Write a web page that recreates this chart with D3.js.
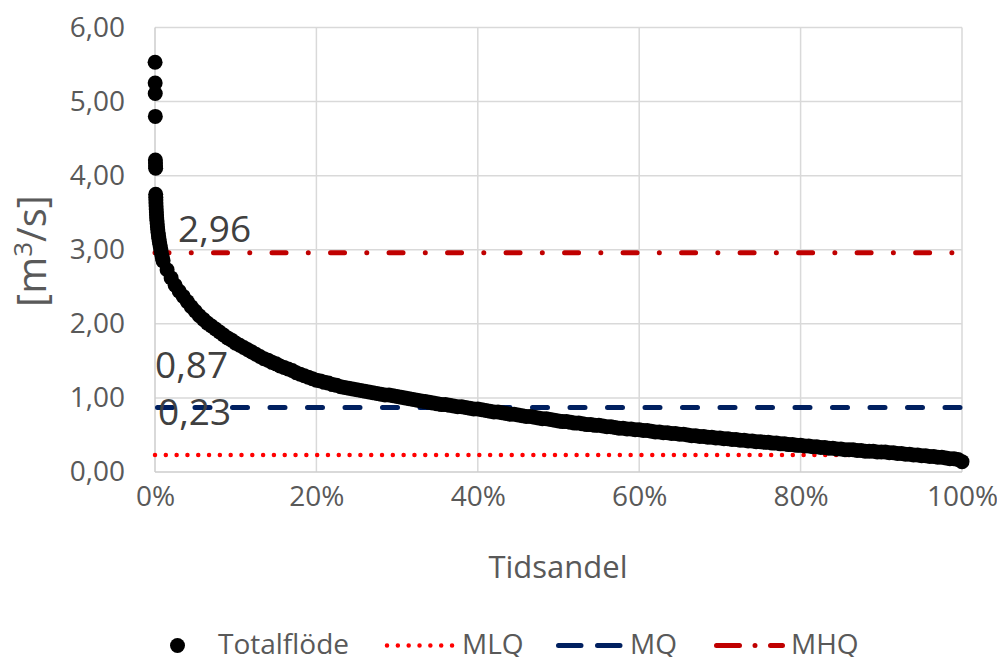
<!DOCTYPE html>
<html><head><meta charset="utf-8">
<script src="https://cdn.jsdelivr.net/npm/d3@7"></script>
<style>html,body{margin:0;padding:0;background:#fff;}svg{display:block;font-family:"Open Sans",sans-serif;}</style>
</head><body>
<svg id="c" width="997" height="657"></svg>
<script>
// ---- data ----
const yTicks = [0,1,2,3,4,5,6];
const xTicks = [0,0.2,0.4,0.6,0.8,1.0];
// steep start of duration curve (percent of time, m3/s)
const headPct  = [0.01,0.02,0.03,0.04,0.05,0.06,0.07,0.08,0.09,0.10,0.11,0.12,0.13,0.15,0.17,0.19,0.21,0.24,0.27,0.30,0.34,0.38,0.43,0.48,0.54,0.60,0.67,0.74,0.82,0.91];
const headFlow = [5.53,5.25,5.11,4.80,4.21,4.17,4.13,4.10,3.75,3.71,3.67,3.63,3.59,3.55,3.51,3.47,3.43,3.39,3.35,3.31,3.27,3.23,3.19,3.15,3.11,3.07,3.03,2.99,2.94,2.89];
// remainder, at 1.0 %, 1.5 %, ... 100 %
const tailFlow = [
 2.85,2.73,2.62,2.52,2.44,2.37,2.30,2.23,2.17,2.11,
 2.06,2.01,1.97,1.93,1.89,1.85,1.81,1.78,1.74,1.71,
 1.68,1.65,1.62,1.59,1.56,1.53,1.51,1.48,1.46,1.43,
 1.41,1.39,1.37,1.34,1.32,1.30,1.28,1.26,1.24,1.23,
 1.21,1.20,1.18,1.17,1.15,1.14,1.13,1.12,1.11,1.10,
 1.09,1.08,1.07,1.06,1.05,1.04,1.04,1.03,1.02,1.01,
 1.00,0.99,0.98,0.97,0.96,0.95,0.94,0.93,0.92,0.91,
 0.91,0.90,0.89,0.88,0.88,0.87,0.86,0.85,0.85,0.84,
 0.83,0.82,0.81,0.81,0.80,0.79,0.78,0.78,0.77,0.76,
 0.75,0.75,0.74,0.73,0.72,0.72,0.71,0.70,0.69,0.68,
 0.68,0.67,0.66,0.66,0.65,0.64,0.64,0.63,0.63,0.62,
 0.61,0.61,0.60,0.59,0.59,0.58,0.58,0.57,0.57,0.56,
 0.56,0.55,0.54,0.54,0.53,0.53,0.52,0.52,0.51,0.51,
 0.50,0.49,0.49,0.48,0.48,0.47,0.47,0.46,0.46,0.45,
 0.45,0.44,0.44,0.43,0.43,0.42,0.42,0.41,0.41,0.40,
 0.40,0.39,0.39,0.38,0.38,0.37,0.37,0.36,0.36,0.35,
 0.35,0.34,0.34,0.33,0.33,0.32,0.32,0.31,0.31,0.30,
 0.30,0.30,0.29,0.29,0.28,0.28,0.28,0.27,0.27,0.27,
 0.26,0.26,0.25,0.25,0.24,0.24,0.23,0.23,0.22,0.22,
 0.21,0.21,0.20,0.20,0.19,0.18,0.18,0.17,0.14];
const tailPct = tailFlow.map((d,i)=>1 + i*0.5);
const refNames  = ["MLQ","MQ","MHQ"];
const refValues = [0.23,0.87,2.96];
const refLabels = ["0,23","0,87","2,96"];
const legendNames = ["Totalflöde","MLQ","MQ","MHQ"];

// ---- chart ----
const svg = d3.select("#c");
const x = d3.scaleLinear().domain([0,1]).range([155,962]);
const y = d3.scaleLinear().domain([0,6]).range([472,27.5]);
const fmt = d => d.toFixed(2).replace(".",",");
const axisCol = "#595959";

// gridlines
svg.append("g").selectAll("line").data(yTicks.filter(d=>d>0)).join("line")
  .attr("x1",x(0)).attr("x2",x(1)).attr("y1",d=>y(d)).attr("y2",d=>y(d))
  .attr("stroke","#d9d9d9").attr("stroke-width",1.5);
svg.append("g").selectAll("line").data(xTicks.filter(d=>d>0)).join("line")
  .attr("x1",d=>x(d)).attr("x2",d=>x(d)).attr("y1",y(0)).attr("y2",y(6))
  .attr("stroke","#d9d9d9").attr("stroke-width",1.5);
// axis lines
svg.append("line").attr("x1",x(0)).attr("x2",x(0)).attr("y1",y(0)).attr("y2",y(6))
  .attr("stroke","#cccccc").attr("stroke-width",1.5);
svg.append("line").attr("x1",x(0)).attr("x2",x(1)).attr("y1",y(0)).attr("y2",y(0))
  .attr("stroke","#cccccc").attr("stroke-width",1.5);

// y axis
const yAxis = d3.axisLeft(y).tickValues(yTicks).tickFormat(fmt).tickSize(0).tickPadding(30);
const gy = svg.append("g").attr("transform",`translate(${x(0)},0)`).call(yAxis);
gy.select(".domain").remove();
gy.selectAll("text").attr("font-size",28).attr("fill",axisCol).attr("font-family","Open Sans");

// x axis
const xAxis = d3.axisBottom(x).tickValues(xTicks).tickFormat(d=>Math.round(d*100)+"%").tickSize(0).tickPadding(14);
const gx = svg.append("g").attr("transform",`translate(0,${y(0)})`).call(xAxis);
gx.select(".domain").remove();
gx.selectAll("text").attr("font-size",28).attr("fill",axisCol).attr("font-family","Open Sans");

// axis titles
svg.append("text").attr("x",558).attr("y",578).attr("text-anchor","middle")
  .attr("font-size",31).attr("fill",axisCol).text("Tidsandel");
const yt = svg.append("text").attr("transform","translate(46,251) rotate(-90)").attr("text-anchor","middle")
  .attr("font-size",40).attr("fill",axisCol);
yt.append("tspan").text("[m");
yt.append("tspan").attr("font-size",26).attr("dy",-14).text("3");
yt.append("tspan").attr("dy",14).text("/s]");

// reference lines
const styles = {
  MLQ:{color:"#ff0000", width:4.5, dash:"0.01 10.8", offset:0},
  MQ: {color:"#002060", width:5, dash:"15 22.5", offset:-2.5},
  MHQ:{color:"#c00000", width:5, dash:"14 22.25 0.01 22.25", offset:0}
};
svg.append("g").selectAll("line").data(refNames).join("line")
  .attr("x1",x(0)).attr("x2",x(1))
  .attr("y1",(d,i)=>y(refValues[i])).attr("y2",(d,i)=>y(refValues[i]))
  .attr("stroke",d=>styles[d].color).attr("stroke-width",d=>styles[d].width)
  .attr("stroke-dasharray",d=>styles[d].dash).attr("stroke-dashoffset",d=>styles[d].offset)
  .attr("stroke-linecap","round");

// scatter points
const pts = headPct.map((p,i)=>({p:p/100,v:headFlow[i]}))
  .concat(tailPct.map((p,i)=>({p:p/100,v:tailFlow[i]})));
svg.append("g").selectAll("circle").data(pts).join("circle")
  .attr("cx",d=>x(d.p)).attr("cy",d=>y(d.v)).attr("r",7.5).attr("fill","#000");

// data labels
const labelPos = {MLQ:[158,425], MQ:[155,378], MHQ:[178,242]};
svg.append("g").selectAll("text").data(refNames).join("text")
  .attr("x",d=>labelPos[d][0]).attr("y",d=>labelPos[d][1])
  .attr("font-size",37).attr("fill","#404040")
  .text((d,i)=>refLabels[i]);

// legend
const lg = svg.append("g").attr("font-size",28).attr("fill",axisCol);
lg.append("circle").attr("cx",177.5).attr("cy",645.5).attr("r",7.5).attr("fill","#000");
lg.append("text").attr("x",218).attr("y",654).text(legendNames[0]);
const legItems = [
  {name:"MLQ", x1:387,   x2:452.5, tx:462, dash:"0.01 10.83"},
  {name:"MQ",  x1:558.5, x2:620,   tx:630, dash:"22.5 16.5"},
  {name:"MHQ", x1:716.5, x2:782.5, tx:791, dash:"23 15.5 0.01 15.5"}
];
legItems.forEach(it=>{
  const s = styles[it.name];
  lg.append("line").attr("x1",it.x1).attr("x2",it.x2).attr("y1",645.5).attr("y2",645.5)
    .attr("stroke",s.color).attr("stroke-width",s.width).attr("stroke-linecap","round")
    .attr("stroke-dasharray",it.dash);
  lg.append("text").attr("x",it.tx).attr("y",654).text(it.name);
});
</script>
</body></html>
